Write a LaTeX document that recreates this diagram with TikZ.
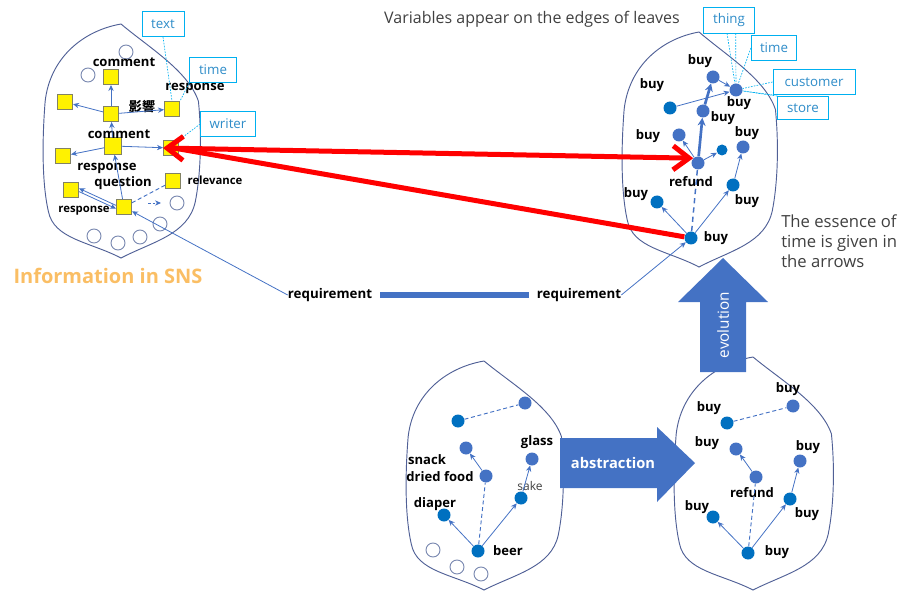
\documentclass[tikz,border=0pt]{standalone}
\usepackage{fontspec}
\setmainfont{Open Sans}
\newfontfamily\cjk{Noto Sans CJK JP}
\usetikzlibrary{arrows.meta,calc}
\definecolor{nblue}{RGB}{68,114,196}
\definecolor{dblue}{RGB}{0,112,192}
\definecolor{cyanb}{RGB}{0,176,240}
\definecolor{cyant}{RGB}{46,140,200}
\definecolor{leafc}{RGB}{80,96,150}
\definecolor{circc}{RGB}{120,135,175}
\definecolor{sqb}{RGB}{130,130,100}
\definecolor{redc}{RGB}{255,0,0}
\definecolor{orangec}{RGB}{250,190,100}
\definecolor{greyt}{RGB}{64,64,64}
\newcommand\lblfont{\fontsize{9.8}{11}\selectfont\bfseries}
\newcommand\leafshape[4]{%
\draw[leafline,shift={(#1,#2)},xscale=#3,yscale=#4]
 (0,0) .. controls (0.35,0.1) and (0.85,0.2) .. (0.98,0.33)
 .. controls (1.03,0.5) and (1.0,0.66) .. (0.94,0.76)
 .. controls (0.85,0.9) and (0.4,0.93) .. (0,1)
 .. controls (-0.4,0.93) and (-0.85,0.92) .. (-0.92,0.8)
 .. controls (-1.0,0.68) and (-1.0,0.5) .. (-0.96,0.33)
 .. controls (-0.9,0.15) and (-0.5,0.03) .. cycle;}
\begin{document}
\begin{tikzpicture}[x=0.75pt,y=-0.75pt,
 leafline/.style={draw=leafc,line width=0.7pt},
 sq/.style={draw=sqb,fill=yellow,minimum size=11.5pt,inner sep=0pt,line width=0.5pt},
 ecirc/.style={circle,draw=circc,minimum size=10.5pt,inner sep=0pt,line width=0.7pt},
 bn/.style={circle,fill=nblue,minimum size=9.75pt,inner sep=0pt},
 dn/.style={circle,fill=dblue,minimum size=9.75pt,inner sep=0pt},
 lbl/.style={font=\lblfont,inner sep=0pt},
 slbl/.style={font=\fontsize{8.5}{10}\selectfont\bfseries,inner sep=0pt},
 ar/.style={draw=nblue,line width=0.6pt,-{Stealth[length=4.5pt,width=4pt]}},
 thickar/.style={draw=nblue,line width=2pt,-{Stealth[length=6pt,width=6pt]}},
 dashe/.style={draw=nblue,line width=0.7pt,dash pattern=on 3pt off 2pt},
 dashf/.style={draw=nblue,line width=1.1pt,dash pattern=on 4pt off 3pt},
 cbox/.style={draw=cyanb,line width=0.7pt,text=cyant,font=\fontsize{10}{12}\selectfont,minimum height=18.75pt,inner sep=0pt},
 cdot/.style={draw=cyanb,line width=0.5pt,dash pattern=on 1.2pt off 1pt},
 redln/.style={draw=redc,line width=3.75pt},
 bigarrow/.style={fill=nblue},
]
\useasboundingbox (0,0) rectangle (898,591);

% leaves
\leafshape{121}{24}{79}{234}
\leafshape{699}{32}{78}{235}
\leafshape{484}{361}{79}{229}
\leafshape{753}{357}{80}{233}

% ---------- left leaf ----------
\foreach \p/\q in {126/52,88/75,177/203,160/224,140/237,118/243,94/236}
  \node[ecirc] at (\p,\q) {};
\node[sq] (s1) at (111,77) {};
\node[sq] (s2) at (65,102) {};
\node[sq] (h1) at (111,114) {};
\node[sq] (s3) at (172,109) {};
\node[sq,minimum size=12.5pt] (h2) at (113,146) {};
\node[sq] (s4) at (63,156) {};
\node[sq] (s5) at (171,148) {};
\node[sq] (s6) at (173,181) {};
\node[sq] (s7) at (71,190) {};
\node[sq] (h3) at (124,207) {};

\node[lbl] (lc1) at (124,62) {comment};
\node[lbl] (lr1) at (195,88) {response};
\node[lbl] (lyk) at (142,107) {\cjk\bfseries 影響};
\node[lbl] (lc2) at (119,134) {comment};
\node[lbl] (lr2) at (107,168) {response};
\node[lbl] (lq) at (123,183) {question};
\node[slbl] (lrel) at (215,180) {relevance};
\node[slbl] (lr3) at (84,211) {response};

\draw[ar] (h1) -- (s1);
\draw[ar] (h1) -- (s2);
\draw[ar] (h1) -- (s3);
\draw[ar] (h2) -- (h1);
\draw[ar] (h2) -- (s4);
\draw[ar] (h2) -- (s5);
\draw[ar] (h3) -- (h2);
\draw[ar] ([yshift=1.2pt]h3.west) -- ([yshift=1.2pt]s7.east);
\draw[ar] ([yshift=-1.2pt]s7.east) -- ([yshift=-1.2pt]h3.west);
\draw[dashe] (h3) -- (s6);
\coordinate (da1) at (148,203);
\coordinate (da2) at (161,203);
\draw[ar,dash pattern=on 2pt off 1.5pt] (da1) -- (da2);

\node[cbox,minimum width=31.5pt] (btext) at (163,24) {text};
\node[cbox,minimum width=35pt] (btime) at (213,70) {time};
\node[cbox,minimum width=41pt] (bwriter) at (228,124) {writer};
\draw[cdot] (btext.south) -- (s3.north);
\draw[cdot] (btime.south west) -- (s3.north east);
\draw[cdot] (bwriter.west) -- (s5.north east);

\node[font=\fontsize{15}{18}\selectfont\bfseries,text=orangec] (info) at (108,276) {Information in SNS};

% ---------- right top leaf ----------
\node[bn] (n1) at (713,77) {};
\node[bn] (n2) at (736,90) {};
\node[dn] (n3) at (670,108) {};
\node[bn] (n4) at (703,111) {};
\node[bn] (n5) at (679,135) {};
\node[bn] (rf) at (698,163) {};
\node[dn,minimum size=8.25pt] (n6) at (722,150) {};
\node[bn] (n7) at (743,147) {};
\node[dn] (n8) at (733,185) {};
\node[dn] (n9) at (657,202) {};
\node[dn] (rroot) at (691,238) {};

\node[lbl] (t1) at (700,61) {buy};
\node[lbl] (t2) at (739,103) {buy};
\node[lbl] (t3) at (652,85) {buy};
\node[lbl] (t4) at (723,118) {buy};
\node[lbl] (t5) at (648,136) {buy};
\node[lbl] (t6) at (691,182) {refund};
\node[lbl] (t7) at (747,133) {buy};
\node[lbl] (t8) at (747,201) {buy};
\node[lbl] (t9) at (636,194) {buy};
\node[lbl] (t10) at (716,238) {buy};

\draw[ar] (rroot) -- (n9);
\draw[ar] (rroot) -- (n8);
\draw[dashf] (rroot) -- (rf);
\draw[ar] (n8) -- (n7);
\draw[thickar] (rf) -- (n4);
\draw[thickar] (n4) -- (n1);
\draw[ar] (rf) -- (n6);
\draw[ar] (rf) -- (n5);
\draw[ar] (n3) -- (n2);
\draw[ar] (n1) -- (n2);

\node[cbox,minimum width=38pt,minimum height=19.5pt] (bthing) at (729,20) {thing};
\node[cbox,minimum width=34pt] (btime2) at (774,48) {time};
\node[cbox,minimum width=61.5pt] (bcust) at (814,82) {customer};
\node[cbox,minimum width=38pt,minimum height=17.25pt] (bstore) at (803,108) {store};
\draw[cdot] ([xshift=-1.5pt]bthing.south) -- (n2);
\draw[cdot] ([xshift=5pt]bthing.south) -- (n2);
\draw[cdot] (btime2.west) -- (n2);
\draw[cdot] (bcust.west) -- (n2);
\draw[cdot] (bcust.south west) -- (n2);
\draw[cdot] (bstore.north west) -- (n2);

% texts
\node[font=\fontsize{12}{14}\selectfont,text=greyt] (vt) at (532,19) {Variables appear on the edges of leaves};
\node[font=\fontsize{12.5}{15}\selectfont,text=greyt,align=left,anchor=west,inner sep=0pt] (ess) at (781,241) {The essence of\\time is given in\\the arrows};

% requirement
\node[lbl,font=\fontsize{10}{12}\selectfont\bfseries] (req1) at (330,295) {requirement};
\node[lbl,font=\fontsize{10}{12}\selectfont\bfseries] (req2) at (579,295) {requirement};
\draw[draw=nblue,line width=4.5pt,shorten <=6pt,shorten >=6pt] (req1.east) -- (req2.west);
\draw[ar] (req1.west) -- (h3);
\draw[ar] (req2.east) -- (rroot);

% red arrows
\draw[redln,{Straight Barb[length=12pt,width=18pt]}-{Straight Barb[length=12pt,width=18pt]}] (s5.west) -- (rf.north west);
\draw[redln] ([xshift=8pt]s5.west) -- (rroot);

% ---------- bottom-left leaf ----------
\foreach \p/\q in {433/550,457/567,481/574}
  \node[ecirc] at (\p,\q) {};
\node[dn] (a1) at (458,421) {};
\node[bn] (a2) at (525,403) {};
\node[bn] (a3) at (466,448) {};
\node[bn] (a4) at (486,476) {};
\node[bn] (a5) at (532,459) {};
\node[dn] (a6) at (521,498) {};
\node[dn] (a7) at (444,515) {};
\node[dn] (beer) at (478,551) {};
\node[lbl] (u1) at (427,460) {snack};
\node[lbl] (u2) at (440,477) {dried food};
\node[lbl] (u3) at (537,442) {glass};
\node[font=\fontsize{9}{11}\selectfont,text=greyt,inner sep=0pt] (u4) at (530,486) {sake};
\node[lbl] (u5) at (435,504) {diaper};
\node[lbl] (u6) at (508,551) {beer};
\draw[dashe] (a1) -- (a2);
\draw[ar] (beer) -- (a7);
\draw[ar] (beer) -- (a6);
\draw[ar] (a6) -- (a5);
\draw[dashe] (beer) -- (a4);
\draw[ar] (a4) -- (a3);

% ---------- bottom-right leaf ----------
\node[dn] (b1) at (727,423) {};
\node[bn] (b2) at (793,406) {};
\node[bn] (b3) at (736,449) {};
\node[bn] (b4) at (756,477) {};
\node[bn] (b5) at (800,461) {};
\node[dn] (b6) at (790,499) {};
\node[dn] (b7) at (713,517) {};
\node[dn] (broot) at (748,553) {};
\node[lbl] (v1) at (709,408) {buy};
\node[lbl] (v2) at (788,389) {buy};
\node[lbl] (v3) at (707,443) {buy};
\node[lbl] (v4) at (752,493) {refund};
\node[lbl] (v5) at (808,447) {buy};
\node[lbl] (v6) at (807,514) {buy};
\node[lbl] (v7) at (697,507) {buy};
\node[lbl] (v8) at (777,552) {buy};
\draw[dashe] (b1) -- (b2);
\draw[ar] (broot) -- (b7);
\draw[ar] (broot) -- (b6);
\draw[ar] (b6) -- (b5);
\draw[dashe] (broot) -- (b4);
\draw[ar] (b4) -- (b3);

% ---------- big arrows ----------
\fill[bigarrow] (700,372) -- (700,302) -- (678,302) -- (723,258) -- (768,302) -- (746,302) -- (746,372) -- cycle;
\node[rotate=90,text=white,font=\fontsize{11.5}{13}\selectfont] (evo) at (723,325) {evolution};
\fill[bigarrow] (560,438) -- (657,438) -- (657,427) -- (695,463) -- (657,502) -- (657,488) -- (560,488) -- cycle;
\node[text=white,font=\fontsize{11}{13}\selectfont\bfseries] (abs) at (613,463) {abstraction};
\end{tikzpicture}
\end{document}
